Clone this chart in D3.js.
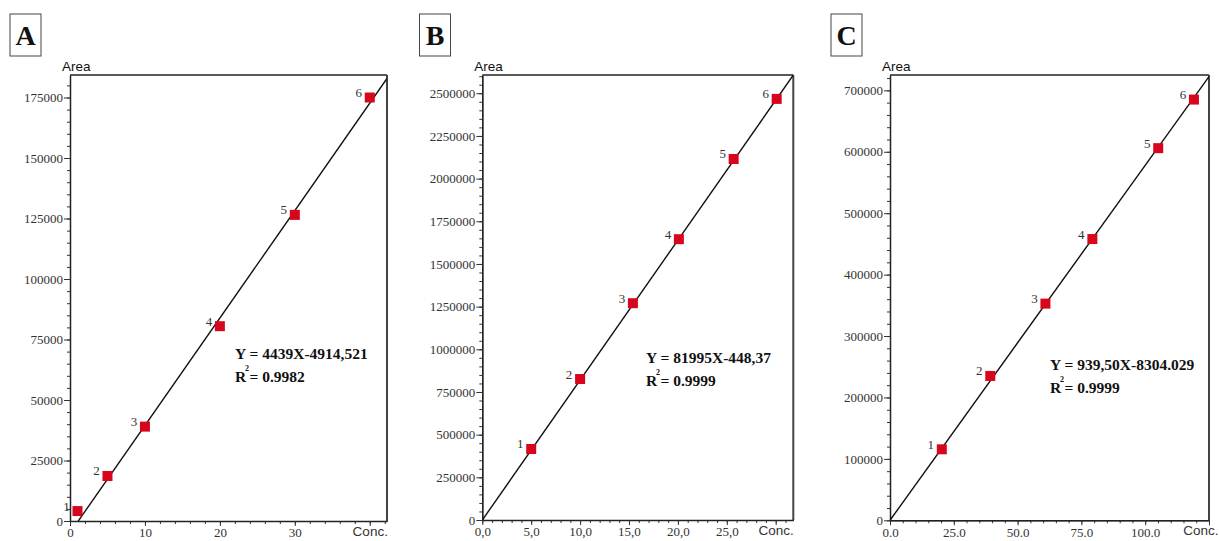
<!DOCTYPE html>
<html>
<head>
<meta charset="utf-8">
<script src="https://cdn.jsdelivr.net/npm/d3@7"></script>
<style>
  body { margin: 0; background: #fff; }
  svg { display: block; }
  .tick text { font-family: "Liberation Serif", "Times New Roman", serif; font-size: 13px; fill: #333; }
  .tick line { stroke: #333; }
  .domain { stroke: #222; }
</style>
</head>
<body>
<div id="chart"></div>
<script>
// calibration data
const panelNames = ["A", "B", "C"];

const concA = [1, 5, 10, 20, 30, 40];
const areaA = [4100, 18600, 39000, 80500, 126500, 175000];
const concB = [5.0, 10.0, 15.4, 20.1, 25.7, 30.1];
const areaB = [416000, 826000, 1270000, 1645000, 2115000, 2467000];
const concC = [20.3, 39.3, 60.9, 79.3, 105.1, 119.1];
const areaC = [115600, 235000, 352800, 457900, 605900, 685000];

const xMaxes = [42.3, 31.8, 125];
const yMaxes = [184300, 2607000, 725000];

const xTicksA = [0, 10, 20, 30, 40];
const xLabelsA = ["0", "10", "20", "30", "Conc."];
const xTicksB = [0, 5, 10, 15, 20, 25, 30];
const xLabelsB = ["0,0", "5,0", "10,0", "15,0", "20,0", "25,0", "Conc."];
const xTicksC = [0, 25, 50, 75, 100, 125];
const xLabelsC = ["0.0", "25.0", "50.0", "75.0", "100.0", "Conc."];

const yTicksA = [0, 25000, 50000, 75000, 100000, 125000, 150000, 175000];
const yTicksB = [0, 250000, 500000, 750000, 1000000, 1250000, 1500000, 1750000, 2000000, 2250000, 2500000];
const yTicksC = [0, 100000, 200000, 300000, 400000, 500000, 600000, 700000];

// fitted lines (slope, intercept)
const fitSlopes = [4439, 81995, 5780];
const fitIntercepts = [-4914.5, -448, 0];

const equations = ["Y = 4439X-4914,521", "Y = 81995X-448,37", "Y = 939,50X-8304.029"];
const rSquared = ["= 0.9982", "= 0.9999", "= 0.9999"];

// layout of each panel (pixels)
const frames = [
  { left: 70, right: 387, top: 75, bottom: 521, box: 10, eqX: 235, eqY: 359 },
  { left: 482.3, right: 793.3, top: 75, bottom: 520, box: 419.5, eqX: 646, eqY: 363 },
  { left: 890, right: 1209, top: 75, bottom: 520.3, box: 831, eqX: 1050, eqY: 370 }
];

const concs = [concA, concB, concC];
const areas = [areaA, areaB, areaC];
const xTicks = [xTicksA, xTicksB, xTicksC];
const xLabels = [xLabelsA, xLabelsB, xLabelsC];
const yTicks = [yTicksA, yTicksB, yTicksC];

const svg = d3.select("#chart").append("svg")
  .attr("width", 1219)
  .attr("height", 541);

// 5 minor intervals between major ticks
function minorTicks(majors, max) {
  const step = (majors[1] - majors[0]) / 5;
  const out = [];
  for (let v = 0; v <= max + 1e-9; v += step) out.push(+v.toFixed(6));
  return out;
}

panelNames.forEach(function (name, i) {
  const f = frames[i];
  const g = svg.append("g");

  const x = d3.scaleLinear().domain([0, xMaxes[i]]).range([f.left, f.right]);
  const y = d3.scaleLinear().domain([0, yMaxes[i]]).range([f.bottom, f.top]);

  // panel letter box
  g.append("rect")
    .attr("x", f.box).attr("y", 14)
    .attr("width", 31).attr("height", 42)
    .attr("fill", "none").attr("stroke", "#444").attr("stroke-width", 1);
  g.append("text")
    .attr("x", f.box + 15.5).attr("y", 45)
    .attr("text-anchor", "middle")
    .style("font-family", "Liberation Serif, serif")
    .style("font-weight", "bold")
    .style("font-size", "28px")
    .attr("fill", "#111")
    .text(name);

  // frame top and right
  g.append("line")
    .attr("x1", f.left).attr("x2", f.right)
    .attr("y1", f.top).attr("y2", f.top)
    .attr("stroke", "#222").attr("stroke-width", 1.3);
  g.append("line")
    .attr("x1", f.right).attr("x2", f.right)
    .attr("y1", f.top).attr("y2", f.bottom)
    .attr("stroke", "#444").attr("stroke-width", 2);

  // minor ticks
  g.append("g")
    .attr("transform", "translate(0," + f.bottom + ")")
    .call(d3.axisBottom(x).tickValues(minorTicks(xTicks[i], xMaxes[i])).tickFormat("").tickSize(3).tickSizeOuter(0));
  g.append("g")
    .attr("transform", "translate(" + f.left + ",0)")
    .call(d3.axisLeft(y).tickValues(minorTicks(yTicks[i], yMaxes[i])).tickFormat("").tickSize(3).tickSizeOuter(0));

  // major ticks
  const xa = g.append("g")
    .attr("transform", "translate(0," + f.bottom + ")")
    .call(d3.axisBottom(x).tickValues(xTicks[i])
      .tickFormat(function (d, k) { return xLabels[i][k]; })
      .tickSize(5).tickSizeOuter(0).tickPadding(2));
  xa.select(".domain").attr("stroke-width", 1.5);
  const last = xa.selectAll(".tick").filter(function (d, k) { return k === xTicks[i].length - 1; })
    .select("text")
    .style("font-family", "Liberation Sans, Arial, sans-serif")
    .style("font-size", "13.5px")
    .attr("fill", "#111")
    .attr("dy", "0.6em");
  // keep the last title inside the picture
  if (i === 2) last.attr("text-anchor", "end").attr("x", 1218 - x(xTicks[i][xTicks[i].length - 1]));

  const ya = g.append("g")
    .attr("transform", "translate(" + f.left + ",0)")
    .call(d3.axisLeft(y).tickValues(yTicks[i]).tickFormat(d3.format("d"))
      .tickSize(6).tickSizeOuter(0).tickPadding(1));
  ya.select(".domain").attr("stroke-width", 1.5);

  // axis title
  g.append("text")
    .attr("x", f.left - 8).attr("y", 71)
    .style("font-family", "Liberation Sans, Arial, sans-serif")
    .style("font-size", "13.5px")
    .attr("fill", "#111")
    .text("Area");

  // fitted line, clipped to the frame
  g.append("clipPath").attr("id", "clip" + name)
    .append("rect")
    .attr("x", f.left).attr("y", f.top)
    .attr("width", f.right - f.left).attr("height", f.bottom - f.top);
  const lineData = [0, xMaxes[i]].map(function (c) { return [c, fitSlopes[i] * c + fitIntercepts[i]]; });
  g.append("path")
    .datum(lineData)
    .attr("clip-path", "url(#clip" + name + ")")
    .attr("fill", "none")
    .attr("stroke", "#111")
    .attr("stroke-width", 1.4)
    .attr("d", d3.line().x(function (d) { return x(d[0]); }).y(function (d) { return y(d[1]); }));

  // points
  const pts = concs[i].map(function (c, k) { return { c: c, a: areas[i][k], n: k + 1 }; });
  g.selectAll(".pt").data(pts).enter()
    .append("rect")
    .attr("class", "pt")
    .attr("x", function (d) { return x(d.c) - 5; })
    .attr("y", function (d) { return y(d.a) - 5; })
    .attr("width", 10).attr("height", 10)
    .attr("fill", "#d8061c");
  g.selectAll(".ptlabel").data(pts).enter()
    .append("text")
    .attr("class", "ptlabel")
    .attr("x", function (d) { return x(d.c) - 11; })
    .attr("y", function (d) { return y(d.a) - 5; })
    .attr("text-anchor", "middle")
    .attr("dominant-baseline", "central")
    .style("font-family", "Liberation Serif, serif")
    .style("font-size", "13px")
    .attr("fill", "#333")
    .text(function (d) { return d.n; });

  // equation
  const eq = g.append("g")
    .style("font-family", "Liberation Serif, serif")
    .style("font-weight", "bold")
    .attr("fill", "#111");
  eq.append("text")
    .attr("x", f.eqX).attr("y", f.eqY)
    .style("font-size", "15.5px")
    .text(equations[i]);
  eq.append("text")
    .attr("x", f.eqX).attr("y", f.eqY + 23)
    .style("font-size", "15.5px")
    .text("R");
  eq.append("text")
    .attr("x", f.eqX + 10).attr("y", f.eqY + 12)
    .style("font-size", "8px")
    .text("2");
  eq.append("text")
    .attr("x", f.eqX + 14.5).attr("y", f.eqY + 23)
    .style("font-size", "15.5px")
    .text(rSquared[i]);
});
</script>
</body>
</html>
